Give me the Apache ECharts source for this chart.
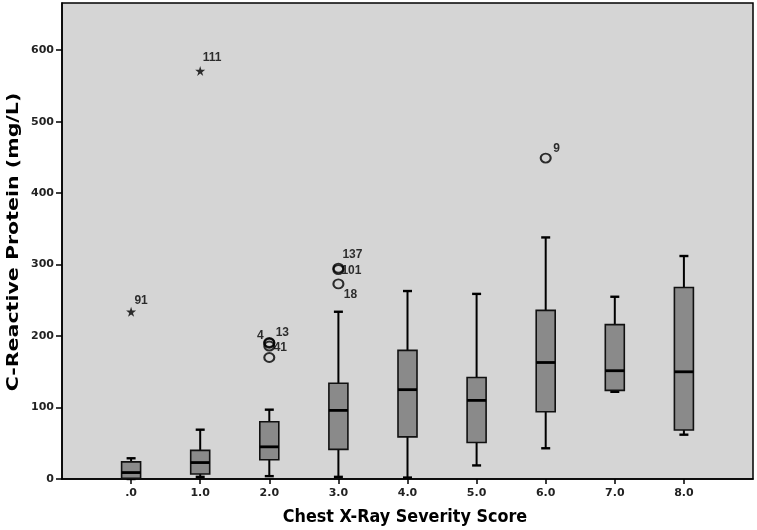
<!DOCTYPE html>
<html>
<head>
<meta charset="utf-8">
<script src="https://cdn.jsdelivr.net/npm/echarts@6/dist/echarts.min.js"></script>
<style>
html,body{margin:0;padding:0;background:#fff;}
#chart{width:757px;height:530px;}
</style>
</head>
<body>
<div id="chart"></div>
<script>
// ---- data ----
const categories = ['.0', '1.0', '2.0', '3.0', '4.0', '5.0', '6.0', '7.0', '8.0'];
const minVals = [0, 3, 4, 3, 2, 19, 43, 122, 62];
const q1Vals  = [1, 7, 27, 41.5, 59, 51, 94, 124, 68.5];
const medVals = [9, 23, 45, 96, 125, 110, 163, 151.5, 150];
const q3Vals  = [24, 40, 80, 134, 180, 142, 236, 216, 268];
const maxVals = [29, 69, 97, 234, 263, 259, 338, 255, 312];

const outlierCat  = [0, 1, 2, 2, 2, 2, 3, 3, 3, 6];
const outlierVal  = [234, 571, 191, 190, 186, 170, 295, 293, 273, 449];
const outlierId   = ['91', '111', '4', '13', '41', '', '137', '101', '18', '9'];
const outlierKind = ['extreme', 'extreme', 'outlier', 'outlier', 'outlier', 'outlier', 'outlier', 'outlier', 'outlier', 'outlier'];

const yTicks = [0, 100, 200, 300, 400, 500, 600];
const xTitle = 'Chest X-Ray Severity Score';
const yTitle = 'C-Reactive Protein (mg/L)';

// ---- styles ----
const labelOffsets = {'91':[10,-11],'111':[12,-13],'4':[-9,-7],'13':[13,-11],'41':[11,2],'137':[14,-13],'101':[13,1],'18':[12,11],'9':[11,-9]};
const starPath = 'path://M50,0 L61,35 L98,35 L68,57 L79,91 L50,70 L21,91 L32,57 L2,35 L39,35 Z';

const boxData = categories.map((c, i) => [i, minVals[i], q1Vals[i], medVals[i], q3Vals[i], maxVals[i]]);
const circleData = [], starData = [];
outlierCat.forEach((c, i) => {
  const item = {value: [c, outlierVal[i]], name: outlierId[i],
    label: {offset: labelOffsets[outlierId[i]] || [0, 0]}};
  (outlierKind[i] === 'extreme' ? starData : circleData).push(item);
});

const chart = echarts.init(document.getElementById('chart'), null, {renderer: 'canvas'});
const ptLabel = {show: true, position: 'inside', formatter: p => p.name,
  fontFamily: 'Liberation Sans', fontSize: 12, fontWeight: 'bold', color: '#000'};

chart.setOption({
  animation: false,
  backgroundColor: '#fff',
  grid: {left: 62, right: 4, top: 3, bottom: 51, show: true, backgroundColor: '#d5d5d5',
    borderColor: '#000', borderWidth: 1.5},
  xAxis: {
    type: 'value', min: -1, max: 9, interval: 1,
    splitLine: {show: false},
    axisLine: {show: true, onZero: false, lineStyle: {color: '#000', width: 1.5}},
    axisTick: {show: true, length: 5, lineStyle: {color: '#000', width: 1.5}, customValues: categories.map((c, i) => i)},
    axisLabel: {customValues: categories.map((c, i) => i), formatter: v => categories[v] || '',
      margin: 9, fontFamily: 'DejaVu Sans', fontWeight: 'bold', fontSize: 11, color: '#222'}
  },
  yAxis: {
    type: 'value', min: 0, max: 666,
    splitLine: {show: false},
    axisLine: {show: true, onZero: false, lineStyle: {color: '#000', width: 1.5}},
    axisTick: {show: true, length: 6, lineStyle: {color: '#000', width: 1.5}, customValues: yTicks},
    axisLabel: {customValues: yTicks, margin: 8, fontFamily: 'DejaVu Sans', fontWeight: 'bold', fontSize: 11, color: '#222'}
  },
  graphic: [
    {type: 'text', x: 405, y: 517, scaleY: 1.1,
      style: {text: xTitle, font: 'bold 16px "DejaVu Sans"', fill: '#000', textAlign: 'center', textVerticalAlign: 'middle'}},
    {type: 'text', x: 14, y: 242, rotation: Math.PI / 2, scaleX: 1.37,
      style: {text: yTitle, font: 'bold 15px "DejaVu Sans"', fill: '#000', textAlign: 'center', textVerticalAlign: 'middle'}}
  ],
  series: [
    {
      type: 'custom', clip: false, data: boxData,
      encode: {x: 0, y: [1, 2, 3, 4, 5]},
      renderItem: function (params, api) {
        const x = api.value(0);
        const pMin = api.coord([x, api.value(1)]);
        const pQ1 = api.coord([x, api.value(2)]);
        const pMed = api.coord([x, api.value(3)]);
        const pQ3 = api.coord([x, api.value(4)]);
        const pMax = api.coord([x, api.value(5)]);
        const cx = pMin[0];
        const bw = 19, cw = 9;
        const ls = {stroke: '#000', lineWidth: 2};
        return {
          type: 'group',
          children: [
            {type: 'line', shape: {x1: cx, y1: pMax[1], x2: cx, y2: pQ3[1]}, style: ls},
            {type: 'line', shape: {x1: cx, y1: pQ1[1], x2: cx, y2: pMin[1]}, style: ls},
            {type: 'line', shape: {x1: cx - cw / 2, y1: pMax[1], x2: cx + cw / 2, y2: pMax[1]}, style: {stroke: '#000', lineWidth: 2.4}},
            {type: 'line', shape: {x1: cx - cw / 2, y1: pMin[1], x2: cx + cw / 2, y2: pMin[1]}, style: {stroke: '#000', lineWidth: 2.4}},
            {type: 'rect', shape: {x: cx - bw / 2, y: pQ3[1], width: bw, height: pQ1[1] - pQ3[1]},
              style: {fill: '#8a8a8a', stroke: '#111', lineWidth: 1.6}},
            {type: 'line', shape: {x1: cx - bw / 2, y1: pMed[1], x2: cx + bw / 2, y2: pMed[1]}, style: {stroke: '#000', lineWidth: 2.8}}
          ]
        };
      }
    },
    {
      type: 'scatter', data: circleData, symbol: 'circle', symbolSize: [10, 9],
      itemStyle: {color: 'rgba(0,0,0,0)', borderColor: '#000', borderWidth: 2},
      label: ptLabel
    },
    {
      type: 'scatter', data: starData, symbol: starPath, symbolSize: 10,
      itemStyle: {color: '#000'},
      label: ptLabel
    }
  ]
});
</script>
</body>
</html>
